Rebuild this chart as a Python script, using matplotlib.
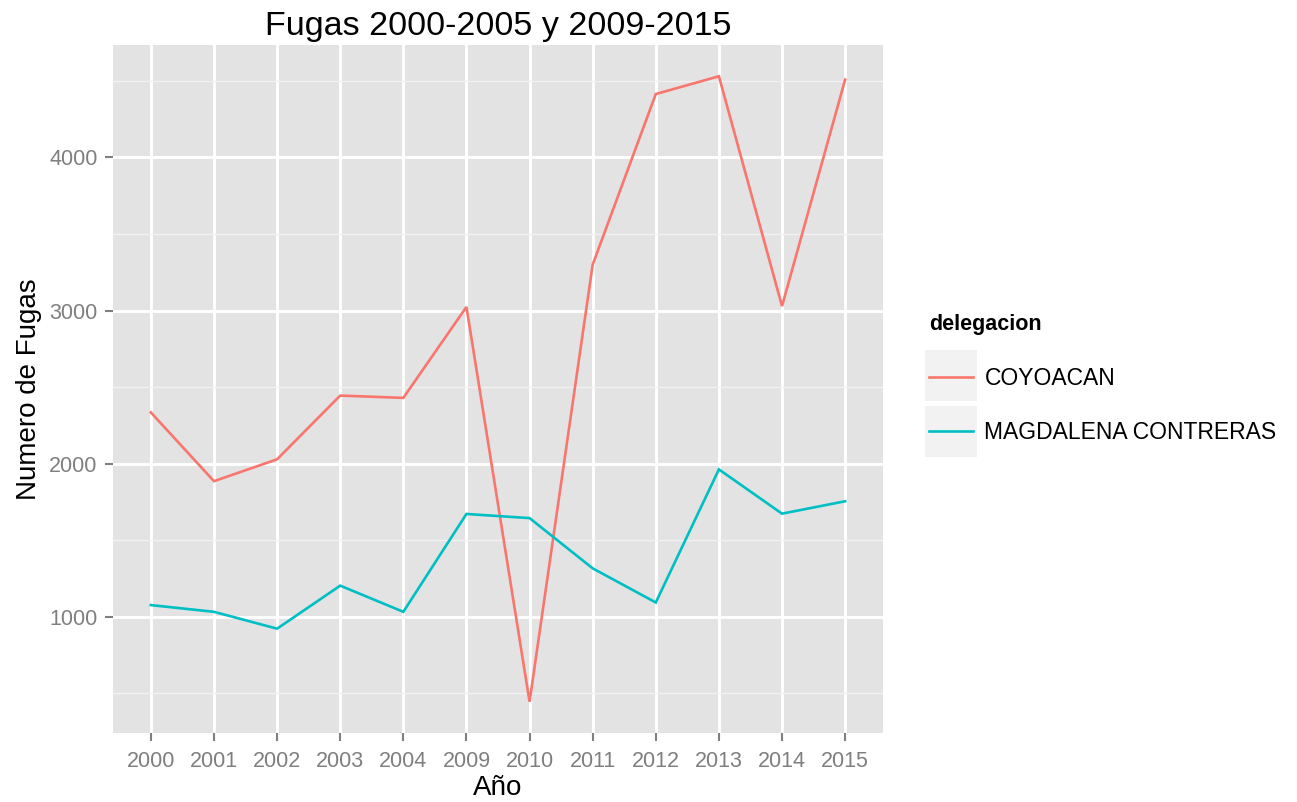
import matplotlib
matplotlib.use("Agg")
import matplotlib.pyplot as plt
from matplotlib.patches import Rectangle

plt.rcParams['font.family'] = ['Liberation Sans', 'DejaVu Sans']

years = ['2000', '2001', '2002', '2003', '2004', '2009', '2010',
         '2011', '2012', '2013', '2014', '2015']
coyoacan = [2335, 1886, 2029, 2445, 2430, 3024, 446, 3300, 4414, 4530, 3029, 4508]
magdalena = [1077, 1033, 923, 1204, 1033, 1672, 1645, 1317, 1094, 1963, 1674, 1755]
series_names = ['COYOACAN', 'MAGDALENA CONTRERAS']
colors = ['#F8766D', '#00BFC4']

fig = plt.figure(figsize=(12.97, 8.02), dpi=100)
ax = fig.add_axes([113 / 1297, 69 / 802, 770 / 1297, 688 / 802])
ax.set_facecolor('#E3E3E3')

x = list(range(len(years)))
lines = []
for vals, name, col in zip([coyoacan, magdalena], series_names, colors):
    ln, = ax.plot(x, vals, color=col, lw=1.9, label=name, solid_joinstyle='miter')
    lines.append(ln)

ax.set_xlim(-0.6, len(years) - 1 + 0.6)
lo = min(min(coyoacan), min(magdalena))
hi = max(max(coyoacan), max(magdalena))
pad = (hi - lo) * 0.05
ax.set_ylim(lo - pad, hi + pad)

ax.set_xticks(x)
ax.set_xticklabels(years)
ax.set_yticks([1000, 2000, 3000, 4000])
ax.set_yticks([500, 1500, 2500, 3500, 4500], minor=True)
ax.grid(True, which='major', color='white', lw=2.1)
ax.grid(True, which='minor', axis='y', color='#F2F2F2', lw=1.0)
ax.set_axisbelow(True)
for s in ax.spines.values():
    s.set_visible(False)
ax.tick_params(which='major', length=6, width=1.5, color='#7F7F7F',
               labelcolor='#7F7F7F', labelsize=15.5, pad=5)
ax.tick_params(axis='x', which='major', pad=7)
ax.tick_params(which='minor', length=0)

ax.set_title('Fugas 2000-2005 y 2009-2015', fontsize=24.5, pad=7)
ax.set_xlabel('Año', fontsize=20, labelpad=2)
ax.set_ylabel('Numero de Fugas', fontsize=20, labelpad=5)

# legend key backgrounds
for y0 in [350, 406]:
    fig.add_artist(Rectangle((925 / 1297, 1 - (y0 + 51) / 802), 52 / 1297, 51 / 802,
                             transform=fig.transFigure, facecolor='#F2F2F2',
                             edgecolor='none', zorder=0))

leg = fig.legend(handles=lines, labels=series_names, title='delegacion',
                 loc='upper left', bbox_to_anchor=(929 / 1297, 1 - 314 / 802),
                 frameon=False, fontsize=16.5, title_fontsize=15.5,
                 handlelength=1.9, handletextpad=0.52, labelspacing=1.38,
                 borderpad=0, borderaxespad=0, alignment='left')
leg.get_title().set_fontweight('bold')

fig.savefig('out.png', dpi=100)
